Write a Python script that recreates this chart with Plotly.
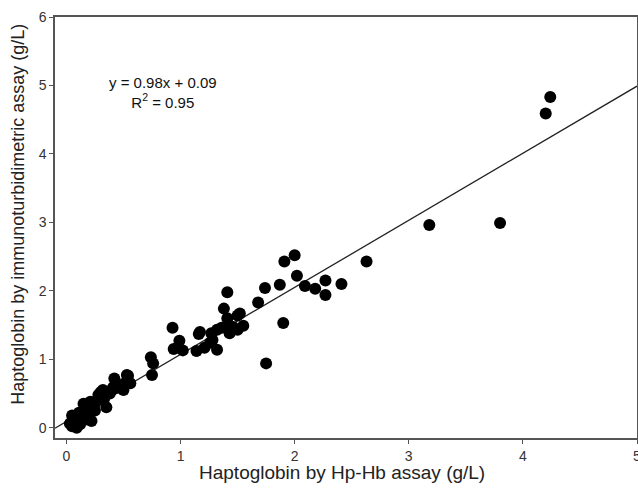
import plotly.graph_objects as go

# Haptoglobin by Hp-Hb assay (g/L)
hp_hb = [
    0.05, 0.06, 0.07, 0.05, 0.08, 0.10, 0.09, 0.12, 0.13, 0.15, 0.11, 0.17, 0.18, 0.20,
    0.22, 0.23, 0.25, 0.27, 0.28, 0.30, 0.32, 0.35, 0.33, 0.38, 0.40, 0.42, 0.45, 0.48,
    0.50, 0.52, 0.54, 0.56, 0.15, 0.19, 0.25, 0.07, 0.03, 0.21, 0.14, 0.29, 0.44, 0.41,
    0.53, 0.51,
    0.74, 0.76, 0.75,
    0.93, 0.99, 0.94, 1.02, 1.14, 1.17, 1.21, 1.28, 1.32, 1.26, 1.27, 1.32, 1.36, 1.38,
    1.41, 1.42, 1.43, 1.46, 1.50, 1.50, 1.55, 1.16,
    1.41, 1.52, 1.68, 1.74, 1.87, 1.91, 2.00, 2.02, 2.09, 2.18, 1.90, 1.75,
    2.27, 2.27, 2.41, 2.63,
    3.18, 3.80, 4.20, 4.24,
]
# Haptoglobin by immunoturbidimetric assay (g/L)
immuno = [
    0.02, 0.08, 0.15, 0.18, 0.05, 0.10, 0.00, 0.05, 0.15, 0.20, 0.22, 0.12, 0.28, 0.33,
    0.10, 0.30, 0.35, 0.40, 0.48, 0.52, 0.55, 0.30, 0.42, 0.50, 0.55, 0.72, 0.60, 0.58,
    0.55, 0.65, 0.76, 0.65, 0.35, 0.18, 0.25, 0.12, 0.06, 0.38, 0.21, 0.45, 0.58, 0.59,
    0.77, 0.65,
    1.03, 0.94, 0.77,
    1.46, 1.27, 1.15, 1.13, 1.12, 1.40, 1.17, 1.28, 1.14, 1.24, 1.38, 1.43, 1.46, 1.74,
    1.60, 1.50, 1.38, 1.47, 1.64, 1.43, 1.49, 1.37,
    1.98, 1.67, 1.83, 2.04, 2.09, 2.43, 2.52, 2.22, 2.07, 2.03, 1.53, 0.94,
    2.15, 1.94, 2.10, 2.43,
    2.96, 2.99, 4.59, 4.83,
]

slope = 0.98
intercept = 0.09
x_range = [-0.1, 5.0]
y_range = [-0.15, 6.0]
x_ticks = [0, 1, 2, 3, 4, 5]
y_ticks = [0, 1, 2, 3, 4, 5, 6]
x_title = "Haptoglobin by Hp-Hb assay (g/L)"
y_title = "Haptoglobin by immunoturbidimetric assay (g/L)"

font_family = "Liberation Sans, Arial, sans-serif"

fig = go.Figure()
fig.add_trace(go.Scatter(
    x=x_range,
    y=[slope * v + intercept for v in x_range],
    mode="lines",
    line=dict(color="#222222", width=1.3),
    showlegend=False,
    hoverinfo="skip",
))
fig.add_trace(go.Scatter(
    x=hp_hb, y=immuno, mode="markers",
    marker=dict(color="black", size=12, line=dict(width=0)),
    showlegend=False,
))

fig.add_annotation(
    x=0.85, y=4.89, xref="x", yref="y",
    text="y = 0.98x + 0.09<br>R<sup>2</sup> = 0.95",
    showarrow=False, align="center",
    font=dict(family=font_family, size=15, color="#111111"),
)
# axis titles
fig.add_annotation(
    x=0.493, y=-0.082, xref="paper", yref="paper",
    xanchor="center", yanchor="middle",
    text=x_title, showarrow=False,
    font=dict(family=font_family, size=19, color="#222222"),
)
fig.add_annotation(
    x=0, y=0.53, xref="paper", yref="paper", xshift=-37,
    xanchor="center", yanchor="middle", textangle=-90,
    text=y_title, showarrow=False,
    font=dict(family=font_family, size=18, color="#222222"),
)

axis_common = dict(
    showgrid=False, zeroline=False, automargin=False,
    showline=True, linecolor="#555555", linewidth=1.5, mirror=True,
    ticks="outside", ticklen=4, tickwidth=1.2, tickcolor="#555555",
    tickfont=dict(family=font_family, size=14, color="#333333"),
    ticklabeloverflow="allow",
)

fig.update_layout(
    width=638, height=488,
    margin=dict(l=55, r=1, t=17, b=50),
    paper_bgcolor="white", plot_bgcolor="white",
    font=dict(family=font_family),
    xaxis=dict(range=x_range, tickvals=x_ticks, **axis_common),
    yaxis=dict(range=y_range, tickvals=y_ticks, **axis_common),
)

fig.write_html(
    "out.html",
    config={"displayModeBar": False},
    post_script="document.body.style.margin='0';",
)
